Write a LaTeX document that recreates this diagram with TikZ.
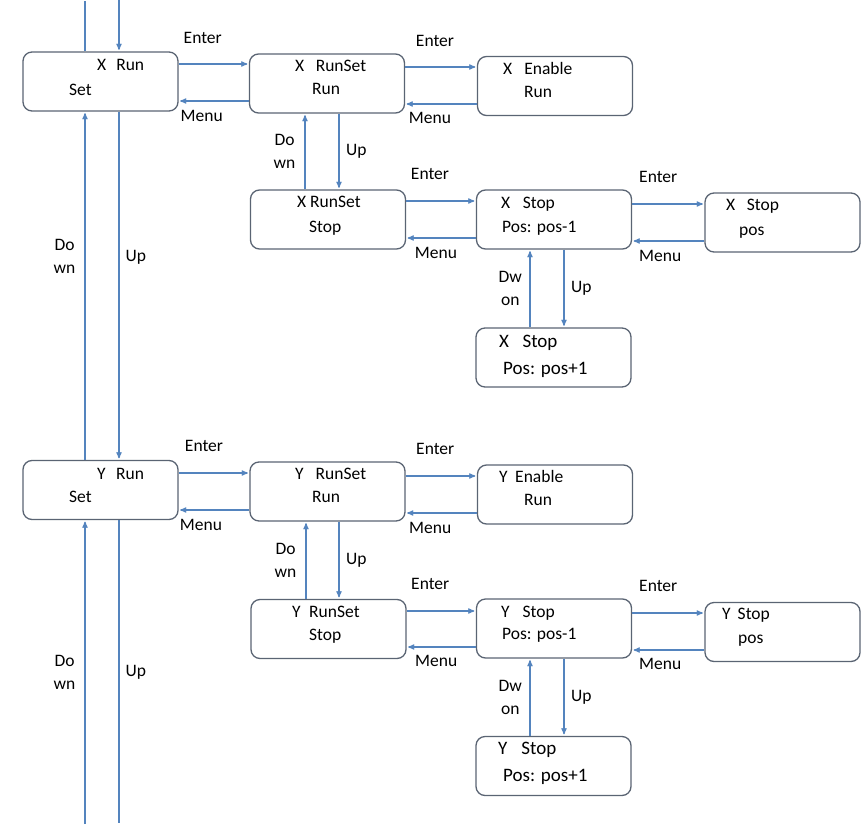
\documentclass[tikz,border=0pt]{standalone}
\usepackage{fontspec}
\setmainfont{Carlito}
\usetikzlibrary{arrows}
\definecolor{linkblue}{RGB}{84,132,190}
\definecolor{boxgray}{RGB}{90,100,115}

\begin{document}
\begin{tikzpicture}[x=1pt, y=-1pt, >=stealth',
  box/.style={draw=boxgray, line width=1.3pt, rounded corners=9pt, minimum width=155pt, minimum height=59pt},
  txt/.style={anchor=west, inner sep=0pt, text height=11pt, text depth=0pt, font=\fontsize{17.5}{23}\selectfont},
  big/.style={font=\fontsize{19}{23}\selectfont, text height=12pt},
  lbl/.style={inner sep=0pt, text height=11pt, text depth=0pt, font=\fontsize{17.5}{23}\selectfont},
  vlbl/.style={inner sep=0pt, align=center, font=\fontsize{17.5}{23}\selectfont},
  link/.style={draw=linkblue, line width=1.2pt, shorten >=1.5pt}]
\useasboundingbox (0,0) rectangle (861,824);

% X axis
\node[box] (xrs) at (100.5,81.5) {};
\node[txt] (xrs1) at (97,65) {X\hspace{10pt}Run};
\node[txt] (xrs2) at (69,90) {Set};
\node[box] (xrr) at (327,83.5) {};
\node[txt] (xrr1) at (295,66) {X\hspace{11.5pt}RunSet};
\node[txt] (xrr2) at (312,89) {Run};
\node[box] (xer) at (555,86) {};
\node[txt] (xer1) at (503,69) {X\hspace{12pt}Enable};
\node[txt] (xer2) at (524,92) {Run};
\node[box] (xss) at (328,219.5) {};
\node[txt] (xss1) at (297,202) {X RunSet};
\node[txt] (xss2) at (309,227) {Stop};
\node[box] (xsm) at (554,219.5) {};
\node[txt] (xsm1) at (501,203) {X\hspace{12.5pt}Stop};
\node[txt] (xsm2) at (502,227) {Pos: pos-1};
\node[box] (xsp) at (782.5,222.5) {};
\node[txt] (xsp1) at (726,205) {X\hspace{11.5pt}Stop};
\node[txt] (xsp2) at (739,230) {pos};
\node[box] (xsn) at (553.5,357.5) {};
\node[txt,big] (xsn1) at (499,341) {X\hspace{13.5pt}Stop};
\node[txt,big] (xsn2) at (503,368) {Pos: pos+1};

\coordinate (t1) at (85,0);
\coordinate (t2) at (119,0);
\draw[link] (t1 |- xrs.north) -- (t1);
\draw[link,->] (t2) -- (t2 |- xrs.north);

\draw[link,->] ([yshift=17.5pt]xrs.east) -- ([yshift=17.5pt]xrs.east -| xrr.west) node[lbl, midway, above=20pt, xshift=-11pt] {Enter};
\draw[link,->] ([yshift=-17.5pt]xrr.west) -- ([yshift=-17.5pt]xrr.west -| xrs.east) node[lbl, midway, below=9pt, xshift=-12pt] {Menu};
\draw[link,->] ([yshift=16.5pt]xrr.east) -- ([yshift=16.5pt]xrr.east -| xer.west) node[lbl, midway, above=20pt, xshift=-6pt] {Enter};
\draw[link,->] ([yshift=-18pt]xer.west) -- ([yshift=-18pt]xer.west -| xrr.east) node[lbl, midway, below=8pt, xshift=-11pt] {Menu};
\draw[link,->] ([xshift=12pt]xrr.south) -- ([xshift=12pt]xrr.south |- xss.north) node[vlbl, midway, right=6.5pt] {Up};
\draw[link,->] ([xshift=-23pt]xss.north) -- ([xshift=-23pt]xss.north |- xrr.south) node[vlbl, midway, left=9pt] {Do\\wn};
\draw[link,->] ([yshift=18.5pt]xss.east) -- ([yshift=18.5pt]xss.east -| xsm.west) node[lbl, midway, above=20.5pt, xshift=-11pt] {Enter};
\draw[link,->] ([yshift=-18.5pt]xsm.west) -- ([yshift=-18.5pt]xsm.west -| xss.east) node[lbl, midway, below=8.5pt, xshift=-5pt] {Menu};
\draw[link,->] ([yshift=15.5pt]xsm.east) -- ([yshift=15.5pt]xsm.east -| xsp.west) node[lbl, midway, above=20.5pt, xshift=-10pt] {Enter};
\draw[link,->] ([yshift=-18.5pt]xsp.west) -- ([yshift=-18.5pt]xsp.west -| xsm.east) node[lbl, midway, below=9pt, xshift=-8pt] {Menu};
\draw[link,->] ([xshift=10pt]xsm.south) -- ([xshift=10pt]xsm.south |- xsn.north) node[vlbl, midway, right=6.5pt] {Up};
\draw[link,->] ([xshift=-23.5pt]xsn.north) -- ([xshift=-23.5pt]xsn.north |- xsm.south) node[vlbl, midway, left=7.5pt] {Dw\\on};

% Y axis
\node[box] (yrs) at (100.5,490) {};
\node[txt] (yrs1) at (97,474) {Y\hspace{10.5pt}Run};
\node[txt] (yrs2) at (69,497) {Set};
\node[box] (yrr) at (327.5,491.5) {};
\node[txt] (yrr1) at (295,474) {Y\hspace{12pt}RunSet};
\node[txt] (yrr2) at (312,497) {Run};
\node[box] (yer) at (555,494.5) {};
\node[txt] (yer1) at (499,477) {Y\hspace{7.5pt}Enable};
\node[txt] (yer2) at (524,500) {Run};
\node[box] (yss) at (328.5,629) {};
\node[txt] (yss1) at (292,612) {Y\hspace{8.5pt}RunSet};
\node[txt] (yss2) at (309,635) {Stop};
\node[box] (ysm) at (554,628.5) {};
\node[txt] (ysm1) at (501,612) {Y\hspace{13pt}Stop};
\node[txt] (ysm2) at (502,634) {Pos: pos-1};
\node[box] (ysp) at (782.5,632) {};
\node[txt] (ysp1) at (722,614) {Y\hspace{7pt}Stop};
\node[txt] (ysp2) at (738,638) {pos};
\node[box] (ysn) at (553.5,766) {};
\node[txt,big] (ysn1) at (498,748) {Y\hspace{14pt}Stop};
\node[txt,big] (ysn2) at (503,775) {Pos: pos+1};

% X <-> Y
\draw[link,->] ([xshift=18.5pt]xrs.south) -- ([xshift=18.5pt]xrs.south |- yrs.north) node[vlbl, pos=.417, right=6pt] {Up};
\draw[link,->] ([xshift=-15.5pt]yrs.north) -- ([xshift=-15.5pt]yrs.north |- xrs.south) node[vlbl, pos=.583, left=9pt] {Do\\wn};

\draw[link,->] ([yshift=17pt]yrs.east) -- ([yshift=17pt]yrs.east -| yrr.west) node[lbl, midway, above=20.5pt, xshift=-10pt] {Enter};
\draw[link,->] ([yshift=-18.5pt]yrr.west) -- ([yshift=-18.5pt]yrr.west -| yrs.east) node[lbl, midway, below=9pt, xshift=-13pt] {Menu};
\draw[link,->] ([yshift=15.5pt]yrr.east) -- ([yshift=15.5pt]yrr.east -| yer.west) node[lbl, midway, above=21pt, xshift=-6pt] {Enter};
\draw[link,->] ([yshift=-18.5pt]yer.west) -- ([yshift=-18.5pt]yer.west -| yrr.east) node[lbl, midway, below=8.5pt, xshift=-11pt] {Menu};
\draw[link,->] ([xshift=11.5pt]yrr.south) -- ([xshift=11.5pt]yrr.south |- yss.north) node[vlbl, midway, right=6.5pt] {Up};
\draw[link,->] ([xshift=-22.5pt]yss.north) -- ([xshift=-22.5pt]yss.north |- yrr.south) node[vlbl, midway, left=9pt] {Do\\wn};
\draw[link,->] ([yshift=18pt]yss.east) -- ([yshift=18pt]yss.east -| ysm.west) node[lbl, midway, above=21pt, xshift=-11pt] {Enter};
\draw[link,->] ([yshift=-18.5pt]ysm.west) -- ([yshift=-18.5pt]ysm.west -| yss.east) node[lbl, midway, below=7.5pt, xshift=-5pt] {Menu};
\draw[link,->] ([yshift=15.5pt]ysm.east) -- ([yshift=15.5pt]ysm.east -| ysp.west) node[lbl, midway, above=20.5pt, xshift=-10pt] {Enter};
\draw[link,->] ([yshift=-18pt]ysp.west) -- ([yshift=-18pt]ysp.west -| ysm.east) node[lbl, midway, below=7.5pt, xshift=-8pt] {Menu};
\draw[link,->] ([xshift=10pt]ysm.south) -- ([xshift=10pt]ysm.south |- ysn.north) node[vlbl, midway, right=6.5pt] {Up};
\draw[link,->] ([xshift=-23.5pt]ysn.north) -- ([xshift=-23.5pt]ysn.north |- ysm.south) node[vlbl, midway, left=7.5pt] {Dw\\on};

\coordinate (b1) at (85,824);
\coordinate (b2) at (119,824);
\draw[link,->] (b1) -- (b1 |- yrs.south) node[vlbl, midway, left=9pt] {Do\\wn};
\draw[link] (b2 |- yrs.south) -- (b2) node[vlbl, midway, right=6pt] {Up};
\end{tikzpicture}
\end{document}
